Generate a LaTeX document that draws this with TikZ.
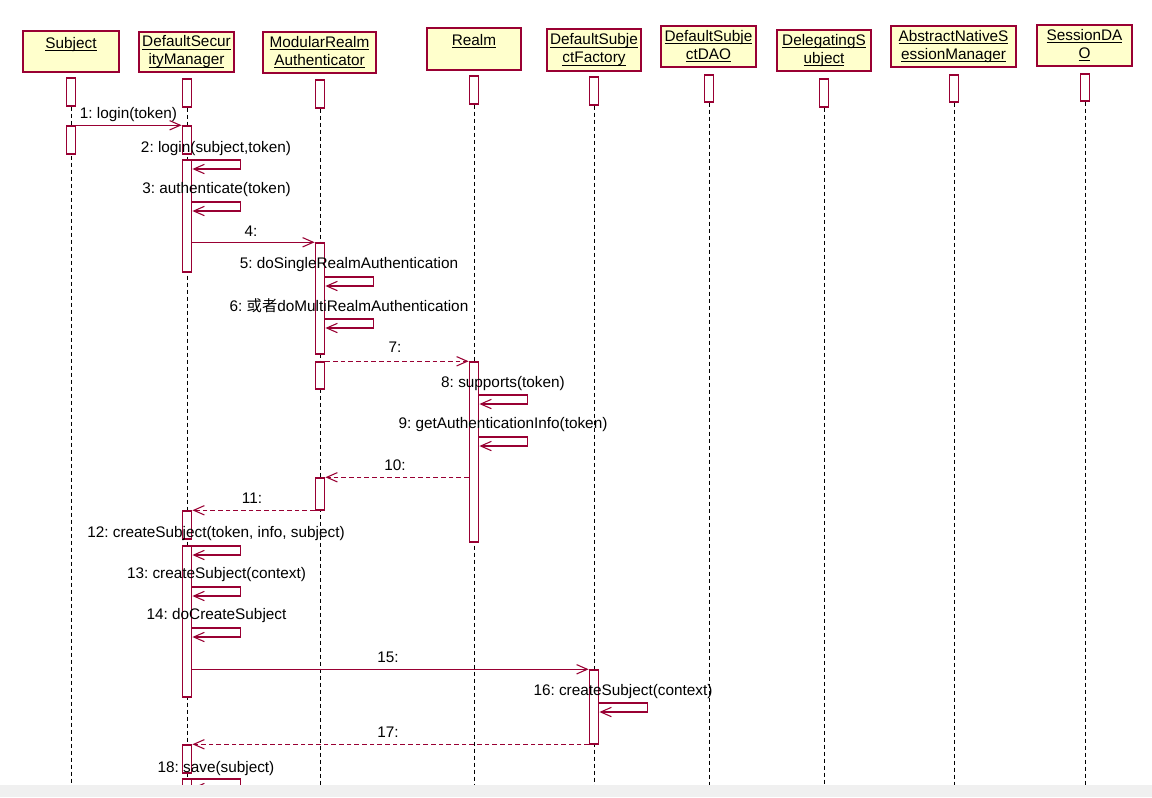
\documentclass[tikz,border=0pt]{standalone}
\usepackage{fontspec}
\setmainfont{Liberation Sans}
\newfontfamily\cjkfont{Noto Sans CJK SC}
\usetikzlibrary{arrows.meta,backgrounds}
\frenchspacing

\definecolor{seqred}{RGB}{153,0,51}
\definecolor{seqyellow}{RGB}{255,255,204}

% underlined object name, rule at a fixed depth
\newcommand{\ulname}[1]{\setbox0\hbox{#1}\rlap{\rule[-2.1pt]{\wd0}{0.75pt}}\box0}
% activation bar: name, x, top y, bottom y
\newcommand{\actbar}[4]{\node[actbar, minimum height={(#4-#3)*0.75pt}] (#1) at (#2,{(#3+#4)/2}) {};}
% call to itself: bar, y
\newcommand{\selfcall}[2]{\draw[call] (#1.east |- 0,#2) -- ++(48,0) -- ++(0,9) -- ++(-48,0);}

\tikzset{
  every node/.style={font=\fontsize{11.5}{13.5}\selectfont},
  head/.style={draw=seqred, fill=seqyellow, line width=1.3pt, align=center, inner sep=0pt},
  actbar/.style={draw=seqred, fill=white, line width=1.1pt, minimum width=7pt, inner sep=0pt},
  lifeline/.style={black, line width=0.75pt, dash pattern=on 3pt off 2.25pt},
  call/.style={seqred, line width=0.8pt, -{Straight Barb[length=8pt,width=7pt]}},
  reply/.style={call, dash pattern=on 3.5pt off 2.25pt},
  msg/.style={anchor=base, inner sep=0pt}
}

\begin{document}
\begin{tikzpicture}[x=0.75pt,y=-0.75pt]
      \useasboundingbox (0,0) rectangle (1152,797);
      \coordinate (bottom) at (0,785);

      %%%%  objects
      \node[head, minimum width=72pt, minimum height=30.75pt] (subj) at (71,51.5) {\ulname{Subject}\\\mbox{}};
      \node[head, minimum width=71.25pt, minimum height=30pt] (dsm) at (186.5,52) {\ulname{DefaultSecur}\\\ulname{ityManager}};
      \node[head, minimum width=84.75pt, minimum height=30.75pt] (mra) at (319.5,52.5) {\ulname{ModularRealm}\\\ulname{Authenticator}};
      \node[head, minimum width=70.5pt, minimum height=31.5pt] (realm) at (474,49) {\ulname{Realm}\\\mbox{}};
      \node[head, minimum width=70.5pt, minimum height=31.5pt] (dsf) at (594,50) {\ulname{DefaultSubje}\\\ulname{ctFactory}};
      \node[head, minimum width=71.25pt, minimum height=30.75pt] (dao) at (708.5,46.5) {\ulname{DefaultSubje}\\\ulname{ctDAO}};
      \node[head, minimum width=70.5pt, minimum height=30.75pt] (dlg) at (824,50.5) {\ulname{DelegatingS}\\\ulname{ubject}};
      \node[head, minimum width=93.75pt, minimum height=30.75pt] (ansm) at (953.5,46.5) {\ulname{AbstractNativeS}\\\ulname{essionManager}};
      \node[head, minimum width=71.25pt, minimum height=30.75pt] (sdao) at (1084.5,45.5) {\ulname{SessionDA}\\\ulname{O}};

      %%%%  activation bars
      \actbar{s0}{71}{78}{106}
      \actbar{s1}{71}{126}{154}
      \actbar{d0}{187}{79}{107}
      \actbar{d1}{187}{126}{154}
      \actbar{d2}{187}{160}{272}
      \actbar{d3}{187}{511}{539}
      \actbar{d4}{187}{546}{697}
      \actbar{d5}{187}{745}{773}
      \actbar{d6}{187}{779}{792}
      \actbar{m0}{320}{80}{108}
      \actbar{m1}{320}{243}{354}
      \actbar{m2}{320}{362}{389}
      \actbar{m3}{320}{478}{510}
      \actbar{r0}{474}{76}{104}
      \actbar{r1}{474}{362}{542}
      \actbar{f0}{594}{77}{105}
      \actbar{f1}{594}{670}{744}
      \actbar{o0}{709}{75}{102}
      \actbar{g0}{824}{79}{107}
      \actbar{n0}{954}{75}{102}
      \actbar{q0}{1085}{74}{101}

      \begin{scope}[on background layer]
        \fill[white] (0,0) rectangle (1152,797);
        \foreach \b in {s0,d0,m0,r0,f0,o0,g0,n0,q0}
          {\draw[lifeline] (\b.south) -- (\b.south |- bottom);}
      \end{scope}

      %%%%  messages
      \draw[call] (s1.north east) -- (d1.north west);
      \selfcall{d2}{160}
      \selfcall{d2}{202}
      \draw[call] (m1.north west -| d2.east) -- (m1.north west);
      \selfcall{m1}{277}
      \selfcall{m1}{319}
      \draw[reply] (m2.north east) -- (r1.north west |- m2.north east);
      \selfcall{r1}{395}
      \selfcall{r1}{437}
      \draw[reply] (m3.north east -| r1.west) -- (m3.north east);
      \draw[reply] (d3.north east -| m3.west) -- (d3.north east);
      \selfcall{d4}{546}
      \selfcall{d4}{587}
      \selfcall{d4}{628}
      \draw[call] (f1.north west -| d4.east) -- (f1.north west);
      \selfcall{f1}{703}
      \draw[reply] (f1.south west) -- (d5.north east -| f1.south west) -- (d5.north east);
      \selfcall{d6}{779}

      %%%%  labels
      \node[msg] (l1) at (128.5,118) {1: login(token)};
      \node[msg] (l2) at (216,152) {2: login(subject,token)};
      \node[msg] (l3) at (216.5,193) {3: authenticate(token)};
      \node[msg] (l4) at (251,236) {4:};
      \node[msg] (l5) at (349,268) {5: doSingleRealmAuthentication};
      \node[msg] (l6) at (349,311) {6: {\cjkfont 或者}doMultiRealmAuthentication};
      \node[msg] (l7) at (395,352) {7:};
      \node[msg] (l8) at (503,387) {8: supports(token)};
      \node[msg] (l9) at (503,428) {9: getAuthenticationInfo(token)};
      \node[msg] (l10) at (395,470) {10:};
      \node[msg] (l11) at (252,503) {11:};
      \node[msg] (l12) at (216,537) {12: createSubject(token, info, subject)};
      \node[msg] (l13) at (216.5,578) {13: createSubject(context)};
      \node[msg] (l14) at (216.5,619) {14: doCreateSubject};
      \node[msg] (l15) at (388,662) {15:};
      \node[msg] (l16) at (623,695) {16: createSubject(context)};
      \node[msg] (l17) at (388,737) {17:};
      \node[msg] (l18) at (216,772) {18: save(subject)};

      \fill[black!6] (bottom) rectangle (1152,797);
\end{tikzpicture}
\end{document}
